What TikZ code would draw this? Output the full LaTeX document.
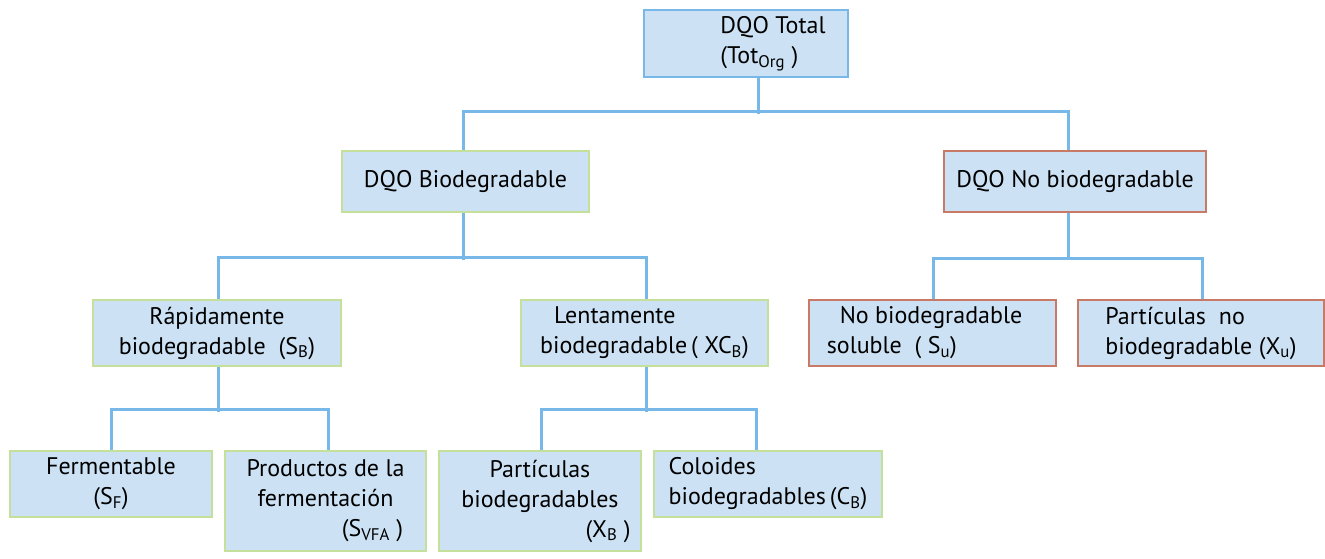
\documentclass[tikz,border=0pt]{standalone}
\usepackage{fontspec}
\setmainfont{PT Sans}

\begin{document}
\begin{tikzpicture}[x=1pt,y=-1pt,
  box/.style={draw,fill=boxfill,line width=2.5pt,minimum width=#1,minimum height=66pt,inner sep=2pt,
    font=\fontsize{24}{30}\selectfont,align=center},
  link/.style={draw=linkblue,line width=3pt}]
\definecolor{boxfill}{HTML}{CCE2F4}
\definecolor{linkblue}{HTML}{78B8E8}
\definecolor{biogreen}{HTML}{C5E09A}
\definecolor{nobiored}{HTML}{C87A66}
\useasboundingbox (0,0) rectangle (1325,558);

% level 0 and 1
\node[box=204pt,draw=linkblue,minimum height=67pt,align=left] (total) at (746,43.5)
  {\kern27pt DQO Total\kern-27pt\\\kern27pt (Tot\textsubscript{Org} )\kern-27pt};
\node[box=247pt,draw=biogreen,minimum height=61pt] (bio) at (465.5,181.5) {DQO Biodegradable};
\node[box=262pt,draw=nobiored,minimum height=61pt,line width=2pt] (nobio) at (1075,181.5) {DQO No biodegradable};

% level 2
\node[box=248pt,draw=biogreen] (rapido) at (217,333) {Rápidamente\\biodegradable\ \ (S\textsubscript{B})};
\node[box=247pt,draw=biogreen,align=left] (lento) at (644.5,333)
  {\kern14pt Lentamente\\biodegradable\,( XC\textsubscript{B})};
\node[box=247pt,draw=nobiored,line width=2pt,align=left] (soluble) at (932.5,333)
  {\kern13pt No biodegradable\kern16pt\\soluble\ \ ( S\textsubscript{u})};
\node[box=246pt,draw=nobiored,line width=2pt,align=left] (xu) at (1201,333)
  {Partículas\ \ no\\biodegradable (X\textsubscript{u})};

% level 3
\node[box=202pt,draw=biogreen] (ferm) at (111,484) {Fermentable\\(S\textsubscript{F})};
\node[box=201pt,draw=biogreen,minimum height=100pt] (vfa) at (325.5,501)
  {Productos de la\\fermentación\\\kern47pt(S\textsubscript{VFA} )\kern-47pt};
\node[box=202pt,draw=biogreen,minimum height=100pt] (xb) at (540,501)
  {Partículas\\biodegradables\\\kern68pt(X\textsubscript{B} )\kern-68pt};
\node[box=228pt,draw=biogreen,align=left] (cb) at (768,484)
  {Coloides\\biodegradables\,(C\textsubscript{B})};

% connectors
\draw[link] ([xshift=12pt]total.south) -- ++(0,36);
\draw[link] ([xshift=-2.5pt]bio.north) -- ++(0,-38) -| ([xshift=-7pt]nobio.north);
\draw[link] ([xshift=-2.5pt]bio.south) -- ++(0,47);
\draw[link] ([xshift=1pt]rapido.north) -- ++(0,-41) -| ([xshift=1.5pt]lento.north);
\draw[link] ([xshift=-7pt]nobio.south) -- ++(0,47);
\draw[link] ([xshift=0.5pt]soluble.north) -- ++(0,-41) -| ([xshift=1pt]xu.north);
\draw[link] ([xshift=1pt]rapido.south) -- ++(0,45);
\draw[link] (ferm.north) -- ++(0,-40) -| ([xshift=2.5pt]vfa.north);
\draw[link] ([xshift=1.5pt]lento.south) -- ++(0,45);
\draw[link] ([xshift=1pt]xb.north) -- ++(0,-40) -| ([xshift=-12pt]cb.north);
\end{tikzpicture}
\end{document}
